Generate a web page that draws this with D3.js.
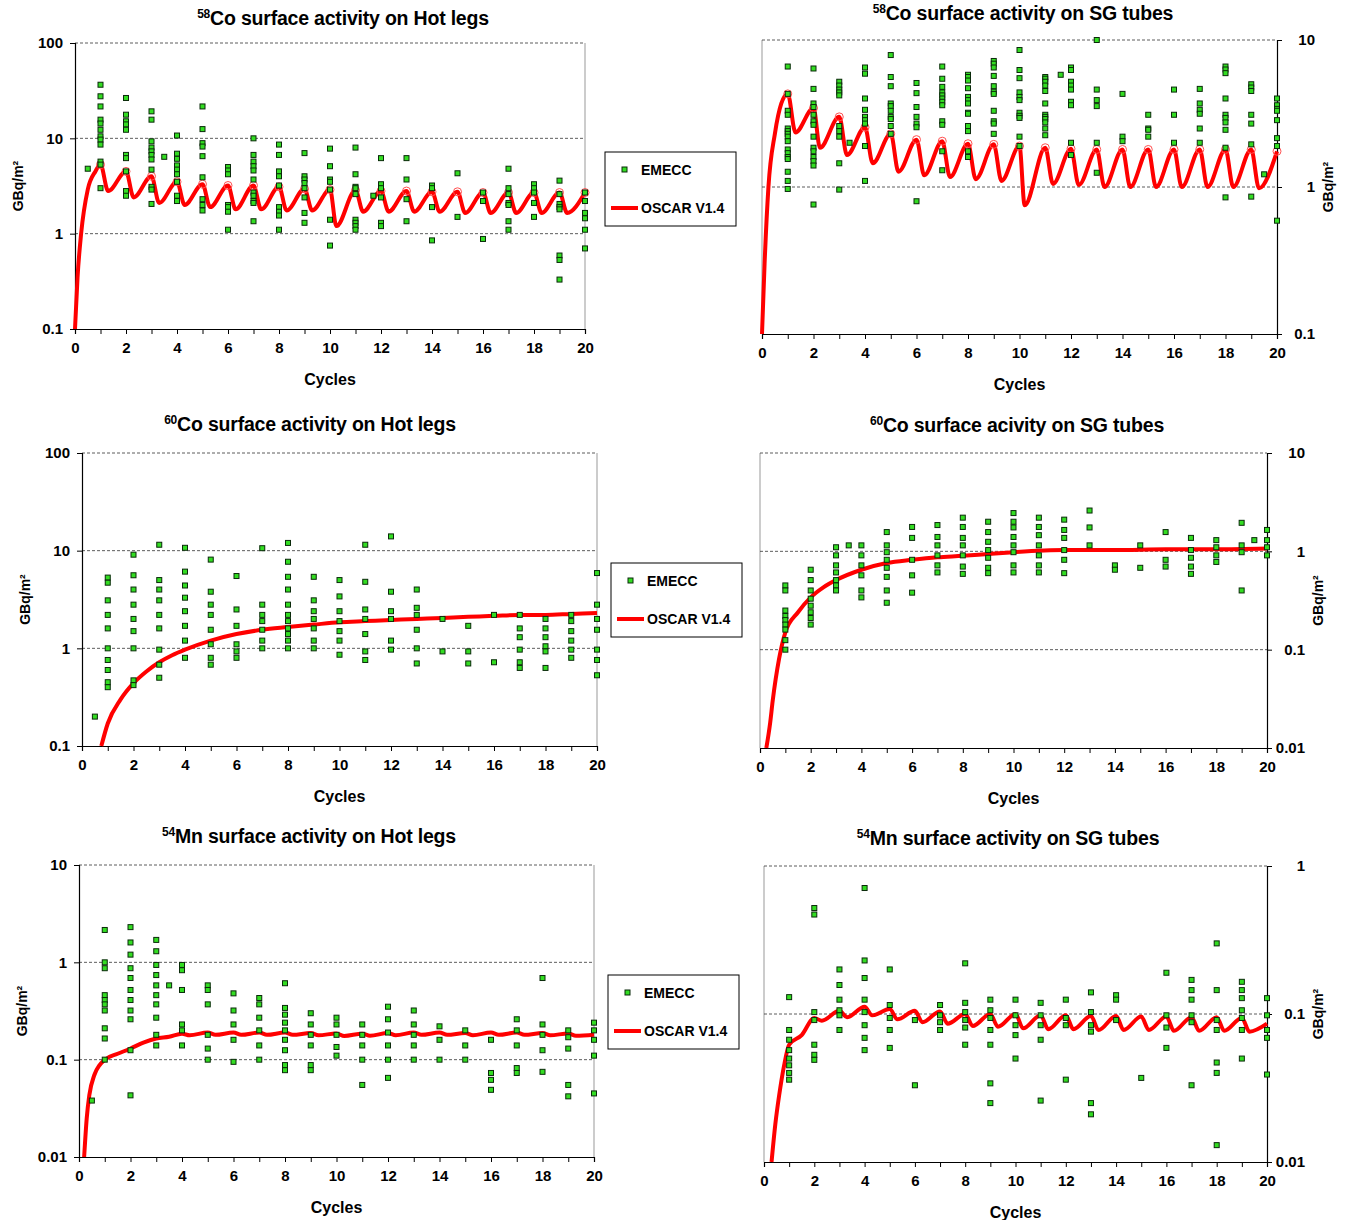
<!DOCTYPE html>
<html>
<head>
<meta charset="utf-8">
<script src="https://cdn.jsdelivr.net/npm/d3@7"></script>
<style>
  body { margin: 0; background: #fff; }
  text { font-family: "Liberation Sans", Arial, sans-serif; font-weight: bold; fill: #000; }
</style>
</head>
<body>
<svg id="chart" width="1348" height="1220"></svg>
<script>
// ---- data (cycle, [measured values]) ----
const emecc58Hot = [
  [0.5, [4.8]],
  [1, [36.5, 27.6, 21.6, 15.7, 14.3, 12.3, 10.5, 9.7, 8.6, 5.7, 5.3, 3.0]],
  [2, [26.5, 17.7, 15.1, 14, 12.3, 6.7, 6.2, 4.5, 2.8, 2.5]],
  [3, [19.2, 15.7, 9.3, 8, 7.3, 6.7, 6, 4.7, 3.1, 2.9, 2.05]],
  [3.5, [6.4]],
  [4, [10.7, 6.9, 6.1, 5.2, 4.7, 4.2, 3.5, 2.5, 2.2]],
  [5, [21.6, 12.5, 8.9, 8.2, 6.5, 3.9, 2.3, 2.0, 1.75]],
  [6, [5, 4.6, 4.2, 2, 1.9, 1.7, 1.1]],
  [7, [10, 6.7, 5.7, 5.1, 4.6, 3.7, 2.7, 2.5, 2.2, 2.1, 1.35]],
  [8, [8.6, 6.7, 4.5, 4, 3.2, 1.9, 1.7, 1.55, 1.1]],
  [9, [7, 4, 3.7, 3.4, 3, 2.4, 1.65, 1.3]],
  [10, [7.8, 5.1, 3.7, 3.5, 2.9, 1.4, 0.75]],
  [11, [8, 4.2, 3.1, 3, 2.6, 1.4, 1.3, 1.2, 1.1]],
  [11.7, [2.5]],
  [12, [6.2, 3.3, 3, 2.4, 1.3, 1.2]],
  [13, [6.2, 3.7, 2.3, 1.35]],
  [14, [3.2, 3, 1.9, 0.85]],
  [15, [4.3, 1.5]],
  [16, [2.7, 2.2, 0.88]],
  [17, [4.8, 3, 2.6, 2.1, 2, 1.35, 1.1]],
  [18, [3.3, 3, 2.7, 2.1, 1.5]],
  [19, [3.6, 2.6, 2.05, 1.9, 1.8, 0.59, 0.53, 0.33]],
  [20, [2.7, 2.2, 1.65, 1.45, 1.1, 0.7]]
];
const oscar58Hot = [
  [0, 0.1], [0.1, 0.35], [0.24, 1], [0.5, 2.9], [0.8, 4.5],
  [1, 5.3], [1.3, 2.8], [2, 4.5], [2.3, 2.4], [3, 4.0], [3.3, 2.1],
  [4, 3.5], [4.3, 2.0], [5, 3.3], [5.3, 1.9], [6, 3.2], [6.3, 1.8],
  [7, 3.2], [7.3, 1.8], [8, 3.1], [8.3, 1.75], [9, 2.95], [9.3, 1.75],
  [10, 2.9], [10.25, 1.2], [11, 2.85], [11.3, 1.7], [12, 2.8], [12.3, 1.7],
  [13, 2.8], [13.3, 1.7], [14, 2.75], [14.3, 1.7], [15, 2.75], [15.3, 1.65],
  [16, 2.7], [16.3, 1.65], [17, 2.7], [17.3, 1.65], [18, 2.7], [18.3, 1.65],
  [19, 2.7], [19.3, 1.65], [20, 2.7]
];

const emecc58SG = [
  [1, [6.6, 4.3, 3.3, 3.1, 2.5, 2.4, 2.3, 2.2, 2.05, 1.8, 1.7, 1.6, 1.55, 1.27, 1.1, 0.97]],
  [2, [6.4, 4.65, 3.7, 3.5, 3.1, 2.8, 2.65, 2.2, 1.85, 1.75, 1.6, 1.5, 1.4, 0.76]],
  [3, [5.2, 4.9, 4.6, 4.4, 4.2, 2.6, 2.4, 2.2, 1.45, 0.96]],
  [3.4, [2]],
  [4, [6.5, 5.9, 4, 3.35, 3, 2.85, 2.7, 1.9, 1.1]],
  [5, [7.9, 5.6, 4.85, 3.7, 3.55, 3.3, 3, 2.9, 2.6, 2.3]],
  [6, [5.1, 4.35, 3.5, 3, 2.7, 2.55, 0.8]],
  [7, [6.6, 5.45, 4.8, 4.4, 4.2, 4, 3.8, 3.6, 2.8, 2.65, 1.75, 1.3]],
  [8, [5.8, 5.6, 5.3, 4.7, 4.1, 3.9, 3.7, 3.2, 3.15, 2.6, 2.4, 1.75, 1.6]],
  [9, [7.2, 6.9, 6.5, 5.7, 4.85, 4.45, 4.3, 3.3, 2.8, 2.7, 2.3]],
  [10, [8.55, 6.25, 5.5, 4.4, 4.1, 3.9, 3.2, 3.05, 2.95, 2.2, 1.9]],
  [11, [5.6, 5.45, 5.2, 4.9, 4.5, 3.7, 3.1, 3, 2.9, 2.75, 2.5, 2.25]],
  [11.6, [5.8]],
  [12, [6.5, 6.25, 5.2, 4.9, 4.6, 3.8, 3.6, 2, 1.65]],
  [13, [10, 4.6, 3.9, 3.55, 2, 1.25]],
  [14, [4.3, 2.2, 2.05]],
  [15, [3.1, 2.5, 2.45, 2.2]],
  [16, [4.6, 3.1, 2]],
  [17, [4.65, 3.7, 3.35, 3.15, 2.5, 2]],
  [18, [6.6, 6.3, 5.95, 4, 3.1, 2.95, 2.75, 2.45, 1.85, 0.85]],
  [19, [5, 4.75, 4.5, 3.1, 2.7, 1.95, 0.86]],
  [19.5, [1.22]],
  [20, [4, 3.6, 3.4, 3.3, 2.85, 2.15, 1.9, 0.59]]
];
const oscar58SG = [
  [0, 0.1], [0.1, 0.3], [0.25, 1], [0.5, 2.3], [0.75, 3.7],
  [1, 4.3], [1.3, 2.35], [2, 3.45], [2.25, 1.85], [3, 3.0], [3.3, 1.65],
  [4, 2.55], [4.3, 1.45], [5, 2.3], [5.3, 1.27], [6, 2.1], [6.3, 1.2],
  [7, 2.05], [7.3, 1.17], [8, 1.97], [8.3, 1.13], [9, 1.95], [9.3, 1.1],
  [10, 1.9], [10.2, 0.75], [11, 1.85], [11.3, 1.05], [12, 1.82], [12.3, 1.03],
  [13, 1.8], [13.3, 1.0], [14, 1.8], [14.3, 1.0], [15, 1.8], [15.3, 1.0],
  [16, 1.8], [16.3, 1.0], [17, 1.8], [17.3, 1.0], [18, 1.8], [18.3, 1.0],
  [19, 1.8], [19.3, 0.98], [20, 1.75]
];

const emecc60Hot = [
  [0.5, [0.2]],
  [1, [5.3, 4.7, 3.1, 2.2, 1.6, 1.0, 0.76, 0.6, 0.45, 0.4]],
  [2, [9.1, 5.6, 4, 2.8, 2, 1.5, 1, 0.47, 0.42]],
  [3, [11.5, 5, 4, 3.1, 2.2, 1.6, 0.97, 0.68, 0.5]],
  [4, [10.7, 6.1, 4.4, 3.3, 2.4, 1.7, 1.2, 0.8]],
  [5, [8.1, 3.8, 2.8, 2.2, 1.55, 1.1, 0.8, 0.68]],
  [6, [5.5, 2.5, 1.7, 1.1, 0.93, 0.8]],
  [7, [10.6, 2.8, 2.2, 1.9, 1.55, 1.2, 1.0]],
  [8, [12, 7.7, 5.4, 4, 2.8, 2.2, 1.9, 1.6, 1.4, 1.2, 1.0]],
  [9, [5.4, 3.1, 2.4, 2, 1.6, 1.2, 1.0]],
  [10, [5, 3.4, 2.4, 1.9, 1.5, 1.2, 0.86]],
  [11, [11.5, 4.8, 2.5, 2, 1.4, 0.93, 0.76]],
  [12, [14, 3.8, 2.4, 2, 1.2, 0.97]],
  [13, [4, 2.6, 2.2, 1.55, 1, 0.7]],
  [14, [2, 0.93]],
  [15, [1.7, 0.93, 0.7]],
  [16, [2.2, 0.72]],
  [17, [2.2, 1.6, 1.3, 0.97, 0.72, 0.63]],
  [18, [2, 1.6, 1.3, 1.05, 0.93, 0.63]],
  [19, [2.2, 1.9, 1.5, 1.2, 0.97, 0.8]],
  [20, [5.9, 2.8, 2, 1.55, 0.97, 0.76, 0.53]]
];
const oscar60Hot = [
  [0.75, 0.1], [1, 0.17], [1.5, 0.3], [2, 0.44], [2.5, 0.58], [3, 0.72],
  [3.5, 0.85], [4, 0.97], [5, 1.2], [6, 1.4], [7, 1.55], [8, 1.65],
  [9, 1.75], [10, 1.85], [11, 1.9], [12, 1.95], [13, 2.0], [14, 2.05],
  [15, 2.1], [16, 2.15], [17, 2.2], [18, 2.2], [19, 2.25], [20, 2.3]
];

const emecc60SG = [
  [1, [0.45, 0.4, 0.25, 0.22, 0.2, 0.18, 0.16, 0.125, 0.1]],
  [2, [0.65, 0.51, 0.4, 0.33, 0.28, 0.24, 0.21, 0.18]],
  [3, [1.1, 0.91, 0.72, 0.61, 0.51, 0.45, 0.4]],
  [3.5, [1.15]],
  [4, [1.15, 0.91, 0.72, 0.57, 0.4, 0.34]],
  [5, [1.57, 1.15, 0.98, 0.82, 0.68, 0.55, 0.4, 0.3]],
  [6, [1.77, 1.37, 0.82, 0.57, 0.38]],
  [7, [1.85, 1.4, 1.15, 0.91, 0.72, 0.61]],
  [8, [2.2, 1.77, 1.37, 1.15, 0.91, 0.7, 0.59]],
  [9, [2, 1.57, 1.25, 1.03, 0.86, 0.68, 0.6]],
  [10, [2.45, 2, 1.75, 1.4, 1.15, 0.98, 0.72, 0.61]],
  [11, [2.2, 1.77, 1.46, 1.15, 0.91, 0.72, 0.61]],
  [12, [2.1, 1.65, 1.37, 1.03, 0.82, 0.6]],
  [13, [2.6, 1.75, 1.15]],
  [14, [0.72, 0.65]],
  [15, [1.15, 0.68]],
  [16, [1.57, 0.82, 0.7]],
  [17, [1.37, 1.03, 0.86, 0.7, 0.59]],
  [18, [1.3, 1.1, 0.91, 0.78]],
  [19, [1.95, 1.15, 0.98, 0.4]],
  [19.5, [1.3]],
  [20, [1.65, 1.3, 1.1, 0.91]]
];
const oscar60SG = [
  [0.25, 0.01], [0.4, 0.018], [0.5, 0.03], [0.75, 0.08], [1, 0.15],
  [1.5, 0.24], [2, 0.34], [2.5, 0.43], [3, 0.51], [4, 0.65], [5, 0.76],
  [6, 0.82], [7, 0.87], [8, 0.9], [9, 0.94], [10, 0.98], [12, 1.03],
  [14, 1.03], [16, 1.05], [18, 1.05], [20, 1.07]
];

const emecc54Hot = [
  [0.5, [0.038]],
  [1, [2.15, 1.0, 0.87, 0.46, 0.41, 0.37, 0.32, 0.21, 0.165, 0.1]],
  [2, [2.3, 1.6, 1.2, 0.87, 0.69, 0.52, 0.41, 0.32, 0.26, 0.125, 0.043]],
  [3, [1.7, 1.3, 0.94, 0.74, 0.58, 0.46, 0.37, 0.27, 0.18, 0.14]],
  [3.5, [0.58]],
  [4, [0.94, 0.83, 0.52, 0.23, 0.2, 0.14]],
  [5, [0.58, 0.52, 0.37, 0.18, 0.13, 0.1]],
  [6, [0.48, 0.32, 0.23, 0.16, 0.095]],
  [7, [0.43, 0.37, 0.27, 0.2, 0.14, 0.1]],
  [8, [0.61, 0.34, 0.29, 0.24, 0.2, 0.16, 0.125, 0.088, 0.078]],
  [9, [0.3, 0.23, 0.18, 0.14, 0.088, 0.078]],
  [10, [0.27, 0.23, 0.18, 0.135, 0.11]],
  [11, [0.23, 0.18, 0.14, 0.1, 0.055]],
  [12, [0.35, 0.26, 0.19, 0.14, 0.1, 0.065]],
  [13, [0.32, 0.23, 0.18, 0.14, 0.1]],
  [14, [0.22, 0.16, 0.1]],
  [15, [0.2, 0.14, 0.1]],
  [16, [0.16, 0.073, 0.062, 0.049]],
  [17, [0.26, 0.2, 0.14, 0.082, 0.073]],
  [18, [0.69, 0.23, 0.18, 0.125, 0.075]],
  [19, [0.2, 0.17, 0.13, 0.055, 0.042]],
  [20, [0.24, 0.2, 0.16, 0.11, 0.045]]
];
const oscar54Hot = [
  [0.2, 0.01], [0.3, 0.025], [0.4, 0.043], [0.6, 0.07], [0.8, 0.088],
  [1, 0.1], [1.5, 0.115], [2, 0.13], [2.5, 0.15], [3, 0.165], [3.5, 0.172],
  [4, 0.185], [4.3, 0.178], [5, 0.19], [5.3, 0.18], [6, 0.19], [6.3, 0.18],
  [7, 0.19], [7.3, 0.18], [8, 0.19], [8.3, 0.18], [9, 0.188], [9.3, 0.178],
  [10, 0.186], [10.3, 0.175], [11, 0.185], [11.3, 0.176], [12, 0.188],
  [12.3, 0.178], [13, 0.19], [13.3, 0.18], [14, 0.19], [14.3, 0.18],
  [15, 0.188], [15.3, 0.178], [16, 0.19], [16.3, 0.18], [17, 0.19],
  [17.3, 0.18], [18, 0.188], [18.3, 0.178], [19, 0.186], [19.3, 0.176], [20, 0.18]
];

const emecc54SG = [
  [1, [0.13, 0.078, 0.067, 0.057, 0.05, 0.045, 0.04, 0.036]],
  [2, [0.52, 0.47, 0.103, 0.091, 0.062, 0.053, 0.049]],
  [3, [0.2, 0.157, 0.125, 0.106, 0.098, 0.078]],
  [4, [0.71, 0.23, 0.175, 0.125, 0.103, 0.084, 0.069, 0.057]],
  [5, [0.2, 0.115, 0.094, 0.078, 0.059]],
  [6, [0.091, 0.033]],
  [7, [0.115, 0.098, 0.088, 0.078]],
  [8, [0.22, 0.119, 0.103, 0.091, 0.081, 0.062]],
  [9, [0.125, 0.106, 0.094, 0.078, 0.062, 0.034, 0.025]],
  [10, [0.125, 0.098, 0.084, 0.072, 0.05]],
  [11, [0.119, 0.098, 0.084, 0.067, 0.026]],
  [12, [0.125, 0.094, 0.084, 0.036]],
  [13, [0.14, 0.103, 0.084, 0.076, 0.025, 0.021]],
  [14, [0.134, 0.125, 0.091]],
  [15, [0.037]],
  [16, [0.19, 0.098, 0.081, 0.059]],
  [17, [0.17, 0.145, 0.125, 0.098, 0.088, 0.033]],
  [18, [0.3, 0.145, 0.091, 0.078, 0.047, 0.04, 0.013]],
  [19, [0.165, 0.145, 0.128, 0.106, 0.094, 0.078, 0.05]],
  [20, [0.128, 0.098, 0.078, 0.069, 0.039]]
];
const oscar54SG = [
  [0.3, 0.01], [0.45, 0.018], [0.6, 0.028], [0.8, 0.045], [1, 0.062],
  [1.5, 0.072], [2, 0.094], [2.3, 0.09], [3, 0.105], [3.3, 0.095],
  [4, 0.112], [4.3, 0.098], [5, 0.108], [5.3, 0.092], [6, 0.105], [6.3, 0.088],
  [7, 0.104], [7.3, 0.086], [8, 0.1], [8.3, 0.083], [9, 0.1], [9.3, 0.082],
  [10, 0.1], [10.3, 0.08], [11, 0.098], [11.3, 0.079], [12, 0.098], [12.3, 0.079],
  [13, 0.097], [13.3, 0.078], [14, 0.097], [14.3, 0.078], [15, 0.096], [15.3, 0.078],
  [16, 0.096], [16.3, 0.077], [17, 0.095], [17.3, 0.077], [18, 0.095], [18.3, 0.077],
  [19, 0.094], [19.3, 0.076], [20, 0.086]
];

const cycleTicks = d3.range(0, 21);
const cycleLabels = d3.range(0, 21, 2);
const ticksHot = [0.1, 1, 10, 100];
const ticksSG = [0.1, 1, 10];
const ticksMnHot = [0.01, 0.1, 1, 10];
const ticksMnSG = [0.01, 0.1, 1];
const ticks60SG = [0.01, 0.1, 1, 10];

// ---- layout ----
const svg = d3.select("#chart");

const panels = [
  { iso: "58", title: "Co surface activity on Hot legs", pts: emecc58Hot, line: oscar58Hot, ticks: ticksHot,
    box: [75, 585, 43, 329], side: "left", tx: 343, ty: 25, peaks: true, legend: [605, 152] },
  { iso: "58", title: "Co surface activity on SG tubes", pts: emecc58SG, line: oscar58SG, ticks: ticksSG,
    box: [762, 1277, 40, 334], side: "right", tx: 1023, ty: 20, peaks: true },
  { iso: "60", title: "Co surface activity on Hot legs", pts: emecc60Hot, line: oscar60Hot, ticks: ticksHot,
    box: [82, 597, 453, 746], side: "left", tx: 310, ty: 431, legend: [611, 563] },
  { iso: "60", title: "Co surface acivity on SG tubes", pts: emecc60SG, line: oscar60SG, ticks: ticks60SG,
    box: [760, 1267, 453, 748], side: "right", tx: 1017, ty: 432 },
  { iso: "54", title: "Mn surface activity on Hot legs", pts: emecc54Hot, line: oscar54Hot, ticks: ticksMnHot,
    box: [79, 594, 865, 1157], side: "left", tx: 309, ty: 843, legend: [608, 975] },
  { iso: "54", title: "Mn surface activity on SG tubes", pts: emecc54SG, line: oscar54SG, ticks: ticksMnSG,
    box: [764, 1267, 866, 1162], side: "right", tx: 1008, ty: 845 }
];

panels.forEach(drawPanel);

function drawPanel(p) {
  const [x0, x1, y0, y1] = p.box;
  const yDom = d3.extent(p.ticks);
  const x = d3.scaleLinear().domain([0, 20]).range([x0, x1]);
  const y = d3.scaleLog().domain(yDom).range([y1, y0]);
  const g = svg.append("g");

  // plot frame side
  g.append("line").attr("x1", p.side === "left" ? x1 : x0).attr("x2", p.side === "left" ? x1 : x0)
    .attr("y1", y0).attr("y2", y1).attr("stroke", "#999").attr("stroke-width", 1);

  // dashed decade grid
  g.selectAll(".grid").data(p.ticks.slice(1)).join("line")
    .attr("x1", x0).attr("x2", x1)
    .attr("y1", d => y(d)).attr("y2", d => y(d))
    .attr("stroke", "#333").attr("stroke-width", 0.8).attr("stroke-dasharray", "3,2");

  // x axis
  const xAxis = d3.axisBottom(x).tickValues(cycleTicks).tickSize(5)
    .tickFormat(d => cycleLabels.includes(d) ? d : "");
  const gx = g.append("g").attr("transform", `translate(0,${y1})`).call(xAxis);
  gx.select(".domain").attr("stroke-width", 1.2);
  gx.selectAll("text").attr("font-size", 15).attr("dy", "1.05em");

  // y axis
  const yAxis = (p.side === "left" ? d3.axisLeft(y) : d3.axisRight(y))
    .tickValues(p.ticks).tickSize(5).tickFormat(d => String(d));
  const gy = g.append("g").attr("transform", `translate(${p.side === "left" ? x0 : x1},0)`).call(yAxis);
  gy.select(".domain").attr("stroke-width", 1.2);
  gy.selectAll("text").attr("font-size", 15).attr("text-anchor", "end")
    .attr("x", p.side === "left" ? -12 : 38);

  svg.selectAll(".domain, .tick line").attr("stroke", "#000");

  // labels
  g.append("text").attr("x", (x0 + x1) / 2).attr("y", y1 + 56)
    .attr("text-anchor", "middle").attr("font-size", 16).text("Cycles");
  const lx = p.side === "left" ? x0 - 52 : x1 + 56;
  g.append("text").attr("transform", `translate(${lx},${(y0 + y1) / 2}) rotate(-90)`)
    .attr("text-anchor", "middle").attr("font-size", 14).text("GBq/m²");
  const t = g.append("text").attr("x", p.tx).attr("y", p.ty).attr("text-anchor", "middle")
    .attr("font-size", 19.5).attr("letter-spacing", -0.2);
  t.append("tspan").attr("font-size", 12).attr("dy", -7).text(p.iso);
  t.append("tspan").attr("dy", 7).text(p.title);

  // line
  const line = d3.line().x(d => x(d[0])).y(d => y(d[1])).curve(d3.curveMonotoneX);
  g.append("path").datum(p.line).attr("d", line)
    .attr("fill", "none").attr("stroke", "#ff0000").attr("stroke-width", 4).attr("stroke-linejoin", "round");
  if (p.peaks) {
    g.selectAll(".peak").data(p.line.filter(d => Number.isInteger(d[0]) && d[0] > 0)).join("circle")
      .attr("cx", d => x(d[0])).attr("cy", d => y(d[1])).attr("r", 4)
      .attr("fill", "none").attr("stroke", "#ff5050").attr("stroke-width", 1);
  }

  // points
  const pts = p.pts.flatMap(([c, vals]) => vals.map(v => [c, v]));
  g.selectAll(".pt").data(pts).join("rect")
    .attr("x", d => x(d[0]) - 2.5).attr("y", d => y(d[1]) - 2.5)
    .attr("width", 5).attr("height", 5)
    .attr("fill", "#33dd22").attr("stroke", "#0a2a0a").attr("stroke-width", 1);

  if (p.legend) drawLegend(p.legend[0], p.legend[1]);
}

function drawLegend(lx, ly) {
  const g = svg.append("g").attr("transform", `translate(${lx},${ly})`);
  g.append("rect").attr("width", 131).attr("height", 74)
    .attr("fill", "#fff").attr("stroke", "#000").attr("stroke-width", 1);
  g.append("rect").attr("x", 17).attr("y", 15).attr("width", 5).attr("height", 5)
    .attr("fill", "#33dd22").attr("stroke", "#0a2a0a");
  g.append("text").attr("x", 36).attr("y", 23).attr("font-size", 14).text("EMECC");
  g.append("line").attr("x1", 6).attr("x2", 33).attr("y1", 56).attr("y2", 56)
    .attr("stroke", "#ff0000").attr("stroke-width", 4);
  g.append("text").attr("x", 36).attr("y", 61).attr("font-size", 14).text("OSCAR V1.4");
}
</script>
</body>
</html>
